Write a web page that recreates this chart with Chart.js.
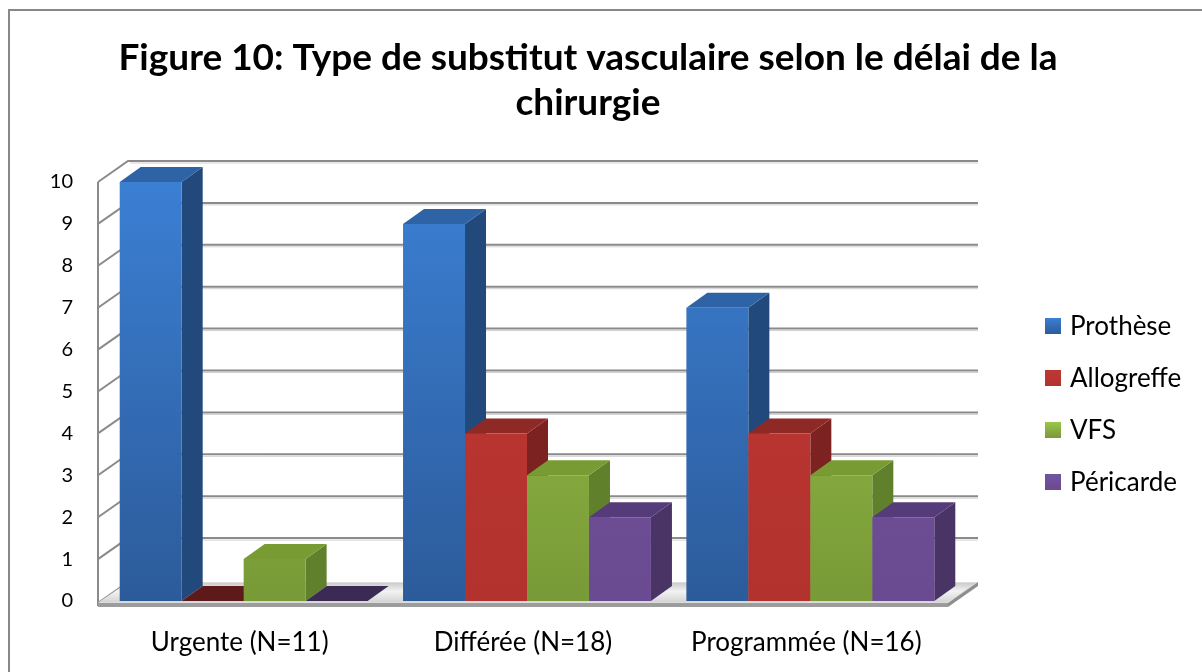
<!DOCTYPE html>
<html>
<head>
<meta charset="utf-8">
<script src="https://cdn.jsdelivr.net/npm/chart.js@4.4.0/dist/chart.umd.min.js"></script>
<style>
  html, body { margin: 0; padding: 0; background: #fff; }
  #wrap { position: relative; width: 1202px; height: 672px; overflow: hidden; }
  #frame { position: absolute; left: 8px; top: 9px; right: -4px; bottom: -4px;
           border-left: 2px solid #888; border-top: 2px solid #888; pointer-events: none; }
</style>
</head>
<body>
<div id="wrap">
  <canvas id="chart" width="1202" height="672"></canvas>
  <div id="frame"></div>
</div>
<script>
// data
const categories = ['Urgente (N=11)', 'Différée (N=18)', 'Programmée (N=16)'];
const seriesNames = ['Prothèse', 'Allogreffe', 'VFS', 'Péricarde'];
const prothese = [10, 9, 7];
const allogreffe = [0, 4, 4];
const vfs = [1, 3, 3];
const pericarde = [0, 2, 2];
const yTicks = [0, 1, 2, 3, 4, 5, 6, 7, 8, 9, 10];

// colours: front top, front bottom, side, top, flat (zero-height top)
const palette = [
  { hi: '#3b7fd3', lo: '#2c5b9a', side: '#22497b', top: '#2e64a6', flat: '#1f3f66' },
  { hi: '#be3834', lo: '#b3322e', side: '#7c2220', top: '#8f2926', flat: '#5e1a1a' },
  { hi: '#9dc54b', lo: '#789a37', side: '#61802c', top: '#789b33', flat: '#4d6623' },
  { hi: '#7354a0', lo: '#6a4b91', side: '#4a3466', top: '#553b79', flat: '#3b2a53' }
];

const DX = 21, DY = -15;   // bar depth
const WX = 30, WY = -21;   // wall depth
const SHIFT = 4;           // bars sit a little behind the front plane

function poly(ctx, pts, fill) {
  ctx.beginPath();
  ctx.moveTo(pts[0][0], pts[0][1]);
  for (let i = 1; i < pts.length; i++) ctx.lineTo(pts[i][0], pts[i][1]);
  ctx.closePath();
  ctx.fillStyle = fill;
  ctx.fill();
}

function frontGradient(ctx, top, bottom, p) {
  const g = ctx.createLinearGradient(0, top, 0, bottom);
  g.addColorStop(0, p.hi);
  g.addColorStop(1, p.lo);
  return g;
}

const walls3d = {
  id: 'walls3d',
  beforeDatasetsDraw(chart) {
    const { ctx, chartArea: a, scales: { y } } = chart;
    const yf = y.getPixelForValue(0) + 2;
    ctx.save();

    // back wall gridlines + left wall diagonals
    yTicks.forEach(v => {
      const py = v === 0 ? yf : y.getPixelForValue(v);
      ctx.beginPath();
      ctx.moveTo(a.left, py);
      ctx.lineTo(a.left + WX, py + WY);
      if (v > 0) ctx.lineTo(a.right + WX, py + WY);
      ctx.strokeStyle = '#8a8a8a';
      ctx.lineWidth = 2;
      ctx.stroke();
      if (v > 0) {
        ctx.beginPath();
        ctx.moveTo(a.left + WX + 2, py + WY + 2);
        ctx.lineTo(a.right + WX, py + WY + 2);
        ctx.strokeStyle = '#d0d0d0';
        ctx.lineWidth = 1;
        ctx.stroke();
      }
    });
    // left wall front edge
    ctx.beginPath();
    ctx.moveTo(a.left, y.getPixelForValue(10));
    ctx.lineTo(a.left, yf + 3);
    ctx.strokeStyle = '#8a8a8a';
    ctx.lineWidth = 2;
    ctx.stroke();

    // floor slab
    poly(ctx, [[a.left, yf], [a.right, yf], [a.right + WX, yf + WY], [a.left + WX, yf + WY]], '#dcdcdc');
    const fg2 = ctx.createLinearGradient(0, yf + WY, 0, yf);
    fg2.addColorStop(0, '#c9c9c9');
    fg2.addColorStop(0.45, '#f2f2f2');
    fg2.addColorStop(1, '#d2d2d2');
    poly(ctx, [[a.left + 1, yf - 1], [a.right - 1, yf - 1], [a.right + WX - 2, yf + WY + 1], [a.left + WX, yf + WY + 1]], fg2);
    poly(ctx, [[a.left, yf], [a.right, yf], [a.right, yf + 4], [a.left, yf + 4]], '#9c9c9c');
    poly(ctx, [[a.right, yf], [a.right + WX, yf + WY], [a.right + WX, yf + WY + 4], [a.right, yf + 4]], '#8e8e8e');
    ctx.restore();
  },
  afterDatasetsDraw(chart) {
    const { ctx, chartArea: a } = chart;
    const metas = chart.data.datasets.map((d, i) => chart.getDatasetMeta(i));
    ctx.save();
    // cover the flat library bars, then draw 3D boxes left to right
    categories.forEach((c, j) => {
      metas.forEach((m, i) => {
        const p = palette[i];
        const { x, y, base, width } = m.data[j].getProps(['x', 'y', 'base', 'width'], true);
        const L = x - width / 2 + SHIFT, R = x + width / 2 + SHIFT;
        const T = Math.min(y, base), B = Math.max(y, base);
        if (B - T < 1) {
          poly(ctx, [[L, B], [R, B], [R + DX, B + DY], [L + DX, B + DY]], p.flat);
          return;
        }
        poly(ctx, [[R, T], [R + DX, T + DY], [R + DX, B + DY], [R, B]], p.side);
        poly(ctx, [[L, T], [R, T], [R + DX, T + DY], [L + DX, T + DY]], p.top);
        poly(ctx, [[L, T], [R, T], [R, B], [L, B]], frontGradient(ctx, a.top, a.bottom, p));
      });
    });
    ctx.restore();
  },
  afterDraw(chart) {
    // legend on the right
    const ctx = chart.ctx;
    ctx.save();
    ctx.font = '26px Lato';
    ctx.textBaseline = 'middle';
    ctx.textAlign = 'left';
    seriesNames.forEach((name, i) => {
      const cy = 326 + i * 52;
      ctx.fillStyle = frontGradient(ctx, cy - 8, cy + 8, palette[i]);
      ctx.fillRect(1045, cy - 8, 16, 16);
      ctx.fillStyle = '#000';
      ctx.fillText(name, 1070, cy + 1);
    });
    ctx.restore();
  }
};

function mkSet(label, values, i) {
  return {
    label: label,
    data: values,
    backgroundColor: 'rgba(0,0,0,0)',
    borderWidth: 0
  };
}

new Chart(document.getElementById('chart'), {
  type: 'bar',
  data: {
    labels: categories,
    datasets: [
      mkSet(seriesNames[0], prothese, 0),
      mkSet(seriesNames[1], allogreffe, 1),
      mkSet(seriesNames[2], vfs, 2),
      mkSet(seriesNames[3], pericarde, 3)
    ]
  },
  options: {
    responsive: false,
    animation: false,
    layout: { padding: { left: 20, right: 46, top: 10, bottom: 0 } },
    categoryPercentage: 0.875,
    barPercentage: 1,
    plugins: {
      legend: { display: false },
      tooltip: { enabled: false },
      title: {
        display: true,
        text: ['Figure 10: Type de substitut vasculaire selon le délai de la', 'chirurgie'],
        color: '#000',
        font: { family: 'Lato', size: 37, weight: 'bold', lineHeight: 45 / 37 },
        padding: { top: 26, bottom: 56 }
      }
    },
    scales: {
      x: {
        grid: { display: false, drawTicks: false },
        border: { display: false },
        ticks: { color: '#000', font: { family: 'Lato', size: 26 }, padding: 26 },
        afterFit: s => { s.height = 71; }
      },
      y: {
        min: 0,
        max: 10,
        grid: { display: false, drawTicks: false },
        border: { display: false },
        ticks: {
          stepSize: 1,
          color: '#000',
          font: { family: 'Lato', size: 20 },
          padding: 25,
          callback: v => yTicks.includes(v) ? String(v) : ''
        },
        afterFit: s => { s.width = 78; }
      },
      spacer: {
        position: 'right',
        display: true,
        grid: { display: false, drawTicks: false },
        border: { display: false },
        ticks: { display: false },
        afterFit: s => { s.width = 208; }
      }
    }
  },
  plugins: [walls3d]
});
</script>
</body>
</html>
